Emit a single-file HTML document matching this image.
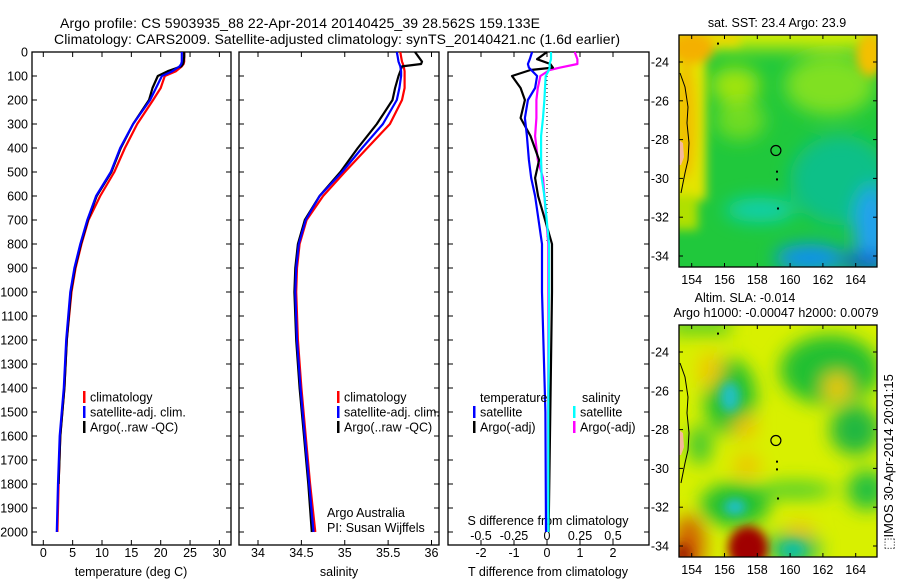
<!DOCTYPE html>
<html><head><meta charset="utf-8"><style>
html,body{margin:0;padding:0;background:#fff;}
svg{display:block;font-family:"Liberation Sans",sans-serif;}
</style></head><body>
<svg id="fig" width="900" height="580" viewBox="0 0 900 580">
<defs>
<filter id="bl" x="-50%" y="-50%" width="200%" height="200%"><feGaussianBlur stdDeviation="9"/></filter>
<filter id="bl2" x="-50%" y="-50%" width="200%" height="200%"><feGaussianBlur stdDeviation="5"/></filter>
<clipPath id="cm1"><rect x="679" y="35" width="198" height="232"/></clipPath>
<clipPath id="cm2"><rect x="679" y="325" width="198" height="232"/></clipPath>
</defs>
<text x="300" y="28" font-size="14" text-anchor="middle" textLength="480">Argo profile: CS 5903935_88 22-Apr-2014 20140425_39 28.562S 159.133E</text>
<text x="337" y="44" font-size="14" text-anchor="middle" textLength="566">Climatology: CARS2009. Satellite-adjusted climatology: synTS_20140421.nc (1.6d earlier)</text>

<g clip-path="url(#cm1)">
<rect x="679" y="35" width="198" height="232" fill="#20c83c"/>
<g filter="url(#bl)">
<rect x="660" y="20" width="240" height="28" fill="#dcee00"/>
<ellipse cx="830" cy="85" rx="45" ry="30" fill="#80e020"/>
<ellipse cx="740" cy="120" rx="25" ry="20" fill="#70dc20"/>
<ellipse cx="735" cy="85" rx="25" ry="18" fill="#a0e410"/>
<ellipse cx="840" cy="180" rx="50" ry="45" fill="#10c088"/>
<ellipse cx="760" cy="210" rx="35" ry="12" fill="#10d0b0"/>
<ellipse cx="810" cy="258" rx="35" ry="14" fill="#1090f0"/>
<ellipse cx="872" cy="230" rx="18" ry="45" fill="#20a0f0"/>
<ellipse cx="865" cy="262" rx="25" ry="8" fill="#1050d0"/>
</g>
<g filter="url(#bl2)">
<rect x="670" y="30" width="36" height="170" fill="#e4e400"/>
<rect x="670" y="30" width="70" height="16" fill="#e8d800"/>
<ellipse cx="692" cy="48" rx="22" ry="16" fill="#f4b000"/>
<ellipse cx="686" cy="120" rx="10" ry="60" fill="#f0c000"/>
<rect x="670" y="195" width="28" height="35" fill="#b0e000"/>
<ellipse cx="870" cy="55" rx="14" ry="22" fill="#f4c000"/>
</g>
</g>
<g clip-path="url(#cm2)">
<rect x="679" y="325" width="198" height="232" fill="#d8f000"/>
<g filter="url(#bl)">
<rect x="670" y="315" width="60" height="20" fill="#60d020"/>
<ellipse cx="730" cy="397" rx="26" ry="38" fill="#20c030"/>
<ellipse cx="830" cy="370" rx="50" ry="35" fill="#20c030"/>
<ellipse cx="855" cy="430" rx="25" ry="25" fill="#20b840"/>
<ellipse cx="735" cy="505" rx="35" ry="22" fill="#20c030"/>
<ellipse cx="793" cy="548" rx="28" ry="16" fill="#20c060"/>
<ellipse cx="867" cy="490" rx="20" ry="20" fill="#20c040"/>
<ellipse cx="700" cy="445" rx="12" ry="20" fill="#40c830"/>
<ellipse cx="795" cy="490" rx="40" ry="8" fill="#40cc30"/>
<ellipse cx="710" cy="370" rx="12" ry="18" fill="#f0c800"/>
<ellipse cx="745" cy="427" rx="12" ry="12" fill="#f0c000"/>
<ellipse cx="747" cy="465" rx="14" ry="10" fill="#f0c000"/>
<ellipse cx="837" cy="387" rx="14" ry="14" fill="#f0c800"/>
<ellipse cx="689" cy="545" rx="16" ry="30" fill="#d06000"/>
<ellipse cx="800" cy="530" rx="14" ry="8" fill="#f0c000"/>
</g>
<g filter="url(#bl2)">
<ellipse cx="730" cy="397" rx="10" ry="15" fill="#20c0c0"/>
<ellipse cx="735" cy="507" rx="11" ry="8" fill="#20c0c8"/>
<ellipse cx="793" cy="550" rx="12" ry="8" fill="#10c0a0"/>
<ellipse cx="748" cy="548" rx="20" ry="22" fill="#a00000"/>
<ellipse cx="683" cy="555" rx="8" ry="12" fill="#a02000"/>
</g>
</g>
<g id="mapdeco"></g>
<text transform="translate(893,462) rotate(-90)" font-size="13" text-anchor="middle">⬚IMOS 30-Apr-2014 20:01:15</text>
<text x="777" y="27" font-size="12.5" text-anchor="middle">sat. SST: 23.4 Argo: 23.9</text>
<text x="745" y="302" font-size="12.5" text-anchor="middle">Altim. SLA: -0.014</text>
<text x="776" y="317" font-size="12.5" text-anchor="middle" textLength="205">Argo h1000: -0.00047 h2000: 0.0079</text>
<g id="plots"></g>
</svg>
<script>
const NS='http://www.w3.org/2000/svg';
const depthsTS=[0,20,40,50,60,80,100,150,200,300,400,500,600,700,800,900,1000,1200,1400,1600,1800,2000];
const tempClim=[24.0,24.0,24.0,23.9,23.6,22.6,20.7,20.0,18.7,16.0,13.9,12.1,9.7,7.7,6.5,5.5,4.8,4.0,3.6,2.9,2.6,2.4];
const tempSat=[23.6,23.6,23.6,23.5,23.2,22.0,20.2,19.2,18.2,15.3,13.1,11.5,9.0,7.5,6.3,5.3,4.6,3.9,3.5,2.8,2.5,2.3];
const tempArgo=[24.0,24.0,23.9,23.8,23.5,21.2,19.5,18.6,18.0,15.3,13.2,11.6,9.1,7.6,6.4,5.4,4.7,4.0,3.6,2.9,2.6];
const salClim=[35.64,35.65,35.66,35.67,35.68,35.69,35.69,35.69,35.66,35.52,35.26,35.00,34.75,34.56,34.48,34.45,34.44,34.46,34.50,34.55,34.60,34.66];
const salSat=[35.60,35.61,35.62,35.63,35.64,35.65,35.65,35.63,35.60,35.44,35.20,34.97,34.71,34.55,34.47,34.44,34.43,34.45,34.49,34.54,34.59,34.64];
const salArgo=[35.81,35.85,35.89,35.88,35.66,35.64,35.62,35.58,35.55,35.37,35.15,34.95,34.71,34.54,34.46,34.43,34.42,34.44,34.48,34.53,34.58,34.62];
const depthsDiff=[0,30,50,65,75,100,150,200,275,350,450,525,600,800,1000,1500,2000];
const tDiffSat=[-0.45,-0.52,-0.58,-0.55,-0.48,-0.3,-0.36,-0.58,-0.67,-0.61,-0.55,-0.48,-0.36,-0.15,-0.15,-0.05,-0.03];
const tDiffArgo=[0,-0.3,0.1,0.18,-0.5,-1.06,-0.8,-0.67,-0.8,-0.5,-0.24,-0.36,-0.27,0.15,0.15,0.1,0.05];
const sDiffArgo=[0.21,0.23,0.23,0.10,0.02,-0.05,-0.07,-0.08,-0.08,-0.09,-0.07,-0.03,-0.02,0.01,0.01,0.01,0.01];
const sDiffSat=[0.03,0.03,0.02,0.02,0.015,-0.01,-0.015,-0.02,-0.03,-0.045,-0.045,-0.04,-0.02,0.015,0.015,0.01,0.01];
const depthTicks=[0,100,200,300,400,500,600,700,800,900,1000,1100,1200,1300,1400,1500,1600,1700,1800,1900,2000];
const tempTicks=[0,5,10,15,20,25,30];
const salTicks=[34,34.5,35,35.5,36];
const tdTicks=[-2,-1,0,1,2];
const sdTicks=[-0.5,-0.25,0,0.25,0.5];
const sdTickLabels=['-0.5','-0.25','0','0.25','0.5'];
const lonTicks=[154,156,158,160,162,164];
const latTicks=[24,26,28,30,32,34];

const G=document.getElementById('plots');
function el(t,a,p){const e=document.createElementNS(NS,t);for(const k in a)e.setAttribute(k,a[k]);(p||G).appendChild(e);return e;}
const Y=d=>52+d*0.24;
const pTop=52,pBot=545;
const P1={l:32,r:231,x:v=>43.3+v*5.87};
const P2={l:239,r:439,x:v=>258+(v-34)*86.75};
const P3={l:448,r:649,x:v=>547+v*33,xs:v=>547+v*132};

function box(P,name){
  const r=el('rect',{x:P.l,y:pTop,width:P.r-P.l,height:pBot-pTop,fill:'none',stroke:'#000','stroke-width':1.3});
  
  
  depthTicks.forEach(d=>{
    el('line',{x1:P.l,x2:P.l+5,y1:Y(d),y2:Y(d),stroke:'#000'});
    el('line',{x1:P.r,x2:P.r-5,y1:Y(d),y2:Y(d),stroke:'#000'});
  });
}
function xticks(P,ticks,fx,labels,ly,name){
  ticks.forEach((v,i)=>{
    const x=fx(v);
    el('line',{x1:x,x2:x,y1:pBot,y2:pBot-5,stroke:'#000'});
    el('line',{x1:x,x2:x,y1:pTop,y2:pTop+5,stroke:'#000'});
    if(labels){const t=el('text',{x:x,y:ly,'font-size':12.5,'text-anchor':'middle'});t.textContent=labels[i];
      
      }
  });
}
function line(xs,ds,fx,color,name,w){
  const pts=xs.map((v,i)=>fx(v).toFixed(1)+','+Y(ds[i]).toFixed(1)).join(' ');
  const p=el('polyline',{points:pts,fill:'none',stroke:color,'stroke-width':w||2.2,'stroke-linejoin':'round'});
  
  
}
function txt(x,y,s,name,opt){const t=el('text',Object.assign({x:x,y:y,'font-size':12.5},opt||{}));t.textContent=s;
  
  return t;}
function leg(x,y,c,s,name){el('rect',{x:x,y:y-6,width:2.5,height:12,fill:c});txt(x+7,y+4.5,s,name);}

box(P1,'temperature-panel');
depthTicks.forEach(d=>{txt(28,Y(d)+4.5,String(d),'depth-tick-label',{'text-anchor':'end'});});
xticks(P1,tempTicks,P1.x,tempTicks.map(String),557,'temperature');
txt(131,576,'temperature (deg C)','x-axis-title-temperature',{'text-anchor':'middle'});
line(tempClim,depthsTS,P1.x,'#ff0000','temperature-climatology-line');
line(tempArgo,depthsTS.slice(0,tempArgo.length),P1.x,'#000','temperature-argo-line');
line(tempSat,depthsTS,P1.x,'#0000ff','temperature-satellite-line');
leg(83,397,'#f00','climatology','legend-climatology');
leg(83,412,'#00f','satellite-adj. clim.','legend-satellite');
leg(83,427,'#000','Argo(..raw -QC)','legend-argo');

box(P2,'salinity-panel');
xticks(P2,salTicks,P2.x,salTicks.map(String),557,'salinity');
txt(339,576,'salinity','x-axis-title-salinity',{'text-anchor':'middle'});
line(salClim,depthsTS,P2.x,'#ff0000','salinity-climatology-line');
line(salArgo,depthsTS,P2.x,'#000','salinity-argo-line');
line(salSat,depthsTS,P2.x,'#0000ff','salinity-satellite-line');
leg(337,397,'#f00','climatology','legend-climatology-2');
leg(337,412,'#00f','satellite-adj. clim.','legend-satellite-2');
leg(337,427,'#000','Argo(..raw -QC)','legend-argo-2');
txt(327,517,'Argo Australia','credit-line-1');
txt(327,532,'PI: Susan Wijffels','credit-line-2');

box(P3,'difference-panel');
xticks(P3,tdTicks,P3.x,tdTicks.map(String),557,'t-diff');
sdTicks.forEach((v,i)=>{txt(P3.xs(v),540,sdTickLabels[i],'s-diff-tick-label',{'text-anchor':'middle'});});
txt(548,525,'S difference from climatology','s-diff-axis-title',{'text-anchor':'middle'});
txt(548,576,'T difference from climatology','t-diff-axis-title',{'text-anchor':'middle'});
el('line',{x1:P3.x(0),x2:P3.x(0),y1:Y(100),y2:Y(800),stroke:'#000','stroke-dasharray':'1,3'});
line(sDiffArgo,depthsDiff,P3.xs,'#ff00ff','s-diff-argo-line');
line(tDiffArgo,depthsDiff,P3.x,'#000','t-diff-argo-line');
line(sDiffSat,depthsDiff,P3.xs,'#00ffff','s-diff-satellite-line');
line(tDiffSat,depthsDiff,P3.x,'#0000ff','t-diff-satellite-line');
txt(480,402,'temperature','legend-temperature-heading');
leg(473,412,'#00f','satellite','legend-t-satellite');
leg(473,427,'#000','Argo(-adj)','legend-t-argo');
txt(582,402,'salinity','legend-salinity-heading');
leg(573,412,'#0ff','satellite','legend-s-satellite');
leg(573,427,'#f0f','Argo(-adj)','legend-s-argo');

const D=document.getElementById('mapdeco');
const LX=lon=>691.7+(lon-154)*16.4;
[[35,62,'sst'],[325,352,'sla']].forEach(([y0,y24,nm])=>{
  const LY=lat=>y24+(lat-24)*19.4;
  const coast=[[680,y0+38],[685,y0+52],[688,y0+72],[687,y0+88],[689,y0+108],[688,y0+125],[685,y0+138],[681,y0+158]];
  el('polygon',{points:'679,'+(y0+105)+' 683,'+(y0+108)+' 684,'+(y0+122)+' 681,'+(y0+130)+' 679,'+(y0+130),fill:'#f4b89c'},D);
  el('polyline',{points:coast.map(p=>p.join(',')).join(' '),fill:'none',stroke:'#000','stroke-width':1},D);
  el('rect',{x:679,y:y0,width:198,height:232,fill:'none',stroke:'#000','stroke-width':1.3},D);
  const c=el('circle',{cx:LX(159.133),cy:LY(28.562),r:5,fill:'none',stroke:'#000','stroke-width':1.2},D);
  
  
  [[776,LY(29.6)],[776,LY(30)],[777,LY(31.5)],[717,LY(23)]].forEach(p=>el('rect',{x:p[0],y:p[1],width:2,height:2,fill:'#000'},D));
  lonTicks.forEach(v=>{const x=LX(v);
    el('line',{x1:x,x2:x,y1:y0,y2:y0+4,stroke:'#000'},D);el('line',{x1:x,x2:x,y1:y0+232,y2:y0+228,stroke:'#000'},D);
    const t=el('text',{x:x,y:y0+249,'font-size':12.5,'text-anchor':'middle'},D);t.textContent=String(v);
    
    });
  latTicks.forEach(v=>{const y=LY(v);
    el('line',{x1:679,x2:683,y1:y,y2:y,stroke:'#000'},D);el('line',{x1:877,x2:873,y1:y,y2:y,stroke:'#000'},D);
    const t=el('text',{x:669,y:y+4.5,'font-size':12.5,'text-anchor':'end'},D);t.textContent='-'+v;
    
    });
});
</script>
</body></html>
